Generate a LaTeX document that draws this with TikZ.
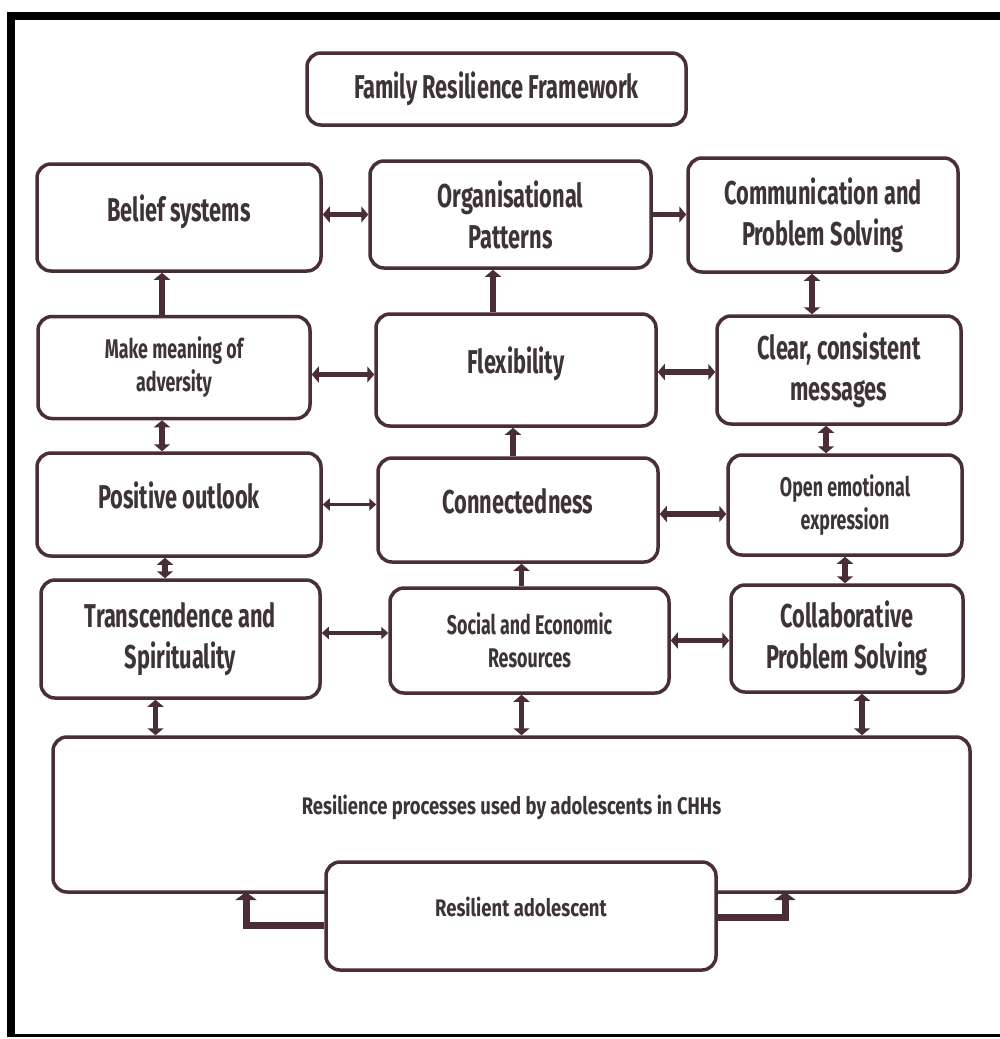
\documentclass[tikz,border=0pt]{standalone}
\usepackage{fontspec}
\setmainfont{Fira Sans}[FakeStretch=0.66]
\newfontfamily\widefont{Fira Sans}[FakeStretch=0.77]
\usetikzlibrary{arrows.meta}

\definecolor{linecol}{HTML}{4A2E35}
\definecolor{textcol}{HTML}{3E3338}

\tikzset{
  box/.style={draw=linecol, line width=3.5pt, rounded corners=14pt, fill=white,
    align=center, text=textcol, inner sep=0pt},
  bigtext/.style={font=\fontsize{33}{41}\selectfont\bfseries},
  smalltext/.style={font=\fontsize{27}{33}\selectfont\bfseries},
  widetext/.style={font=\widefont\fontsize{24}{30}\selectfont\bfseries},
  lift/.style={text depth=19pt},
  flow/.style={draw=linecol, line width=5.5pt, -{Triangle[width=16pt,length=7pt]}},
  dflow/.style={flow, {Triangle[width=16pt,length=7pt]}-{Triangle[width=16pt,length=7pt]}},
  thinflow/.style={draw=linecol, line width=3.5pt,
    {Triangle[width=12pt,length=7pt]}-{Triangle[width=12pt,length=7pt]}},
  backflow/.style={draw=linecol, line width=7pt, -{Triangle[width=21pt,length=8pt]}},
}

\begin{document}
\begin{tikzpicture}[x=1pt,y=-1pt]
\useasboundingbox (0,0) rectangle (1000,1039);
\fill[white] (0,0) rectangle (1000,1039);
% outer frame
\fill[black] (7,12) rectangle (15,1037);
\fill[black] (7,12) rectangle (1000,20);
\fill[black] (7,1034) rectangle (1000,1037);

% boxes
\node[box, bigtext, minimum width=379pt, minimum height=72pt] (title) at (496.5,89) {Family Resilience Framework};

\node[box, bigtext, lift, minimum width=284pt, minimum height=107pt] (belief) at (179,217.5) {Belief systems};
\node[box, bigtext, minimum width=281pt, minimum height=107pt] (org) at (510.5,214.5) {Organisational\\Patterns};
\node[box, bigtext, minimum width=270pt, minimum height=114pt] (comm) at (823,215) {Communication and\\Problem Solving};

\node[box, smalltext, minimum width=272pt, minimum height=102pt] (meaning) at (174,367.5) {Make meaning of\\adversity};
\node[box, bigtext, lift, minimum width=280pt, minimum height=112pt] (flex) at (516,370) {Flexibility};
\node[box, bigtext, minimum width=244pt, minimum height=108pt] (clear) at (839,370) {Clear, consistent\\messages};

\node[box, bigtext, lift, minimum width=284pt, minimum height=103pt] (positive) at (179,504.5) {Positive outlook};
\node[box, bigtext, lift, minimum width=280pt, minimum height=104pt] (conn) at (518,510) {Connectedness};
\node[box, smalltext, minimum width=234pt, minimum height=100pt] (open) at (845,505) {Open emotional\\expression};

\node[box, bigtext, minimum width=279pt, minimum height=118pt] (trans) at (180.5,639) {Transcendence and\\Spirituality};
\node[box, smalltext, minimum width=279pt, minimum height=105pt] (social) at (529.5,640.5) {Social and Economic\\Resources};
\node[box, bigtext, minimum width=232pt, minimum height=107pt] (collab) at (847,638.5) {Collaborative\\Problem Solving};

\node[box, widetext, lift, minimum width=917pt, minimum height=155pt] (process) at (511.5,814.5) {Resilience processes used by adolescents in CHHs};
\node[box, widetext, lift, minimum width=390pt, minimum height=108pt] (adol) at (521,916) {Resilient adolescent};

% connectors, top row
\draw[dflow] (belief.east |- org.west) -- (org.west);
\draw[flow] (org.east) -- (org.east -| comm.west);
\draw[dflow] ([xshift=-11pt]comm.south) -- ([xshift=-11pt]comm.south |- clear.north);
% second row
\draw[flow] ([xshift=-12pt]meaning.north) -- ([xshift=-12pt]meaning.north |- belief.south);
\draw[flow] ([xshift=-23pt]flex.north) -- ([xshift=-23pt]flex.north |- org.south);
\draw[dflow] ([yshift=-7pt]meaning.east) -- ([yshift=-7pt]meaning.east -| flex.west);
\draw[dflow] ([yshift=-2pt]flex.east) -- ([yshift=-2pt]flex.east -| clear.west);
% third row
\draw[dflow] ([xshift=-12pt]meaning.south) -- ([xshift=-12pt]meaning.south |- positive.north);
\draw[dflow] ([xshift=-13pt]clear.south) -- ([xshift=-13pt]clear.south |- open.north);
\draw[flow] ([xshift=-5pt]conn.north) -- ([xshift=-5pt]conn.north |- flex.south);
\draw[thinflow] (positive.east) -- (positive.east -| conn.west);
\draw[dflow] ([yshift=-4pt]conn.east) -- ([yshift=-4pt]conn.east -| open.west);
% fourth row
\draw[dflow] ([xshift=-14pt]positive.south) -- ([xshift=-14pt]positive.south |- trans.north);
\draw[flow] ([xshift=-8pt]social.north) -- ([xshift=-8pt]social.north |- conn.south);
\draw[dflow] (open.south) -- (open.south |- collab.north);
\draw[thinflow] ([yshift=6pt]trans.east) -- ([yshift=6pt]trans.east -| social.west);
\draw[dflow] (social.east) -- (social.east -| collab.west);
% down to the processes
\draw[dflow] ([xshift=-25pt]trans.south) -- ([xshift=-25pt]trans.south |- process.north);
\draw[dflow] ([xshift=-8pt]social.south) -- ([xshift=-8pt]social.south |- process.north);
\draw[dflow] ([xshift=15pt]collab.south) -- ([xshift=15pt]collab.south |- process.north);
% feedback from the adolescent
\coordinate (lup) at (246,892);
\coordinate (rup) at (785,892);
\draw[backflow] ([yshift=-9pt]adol.west) -| (lup);
\draw[backflow] ([yshift=-1pt]adol.east) -| (rup);
\end{tikzpicture}
\end{document}
